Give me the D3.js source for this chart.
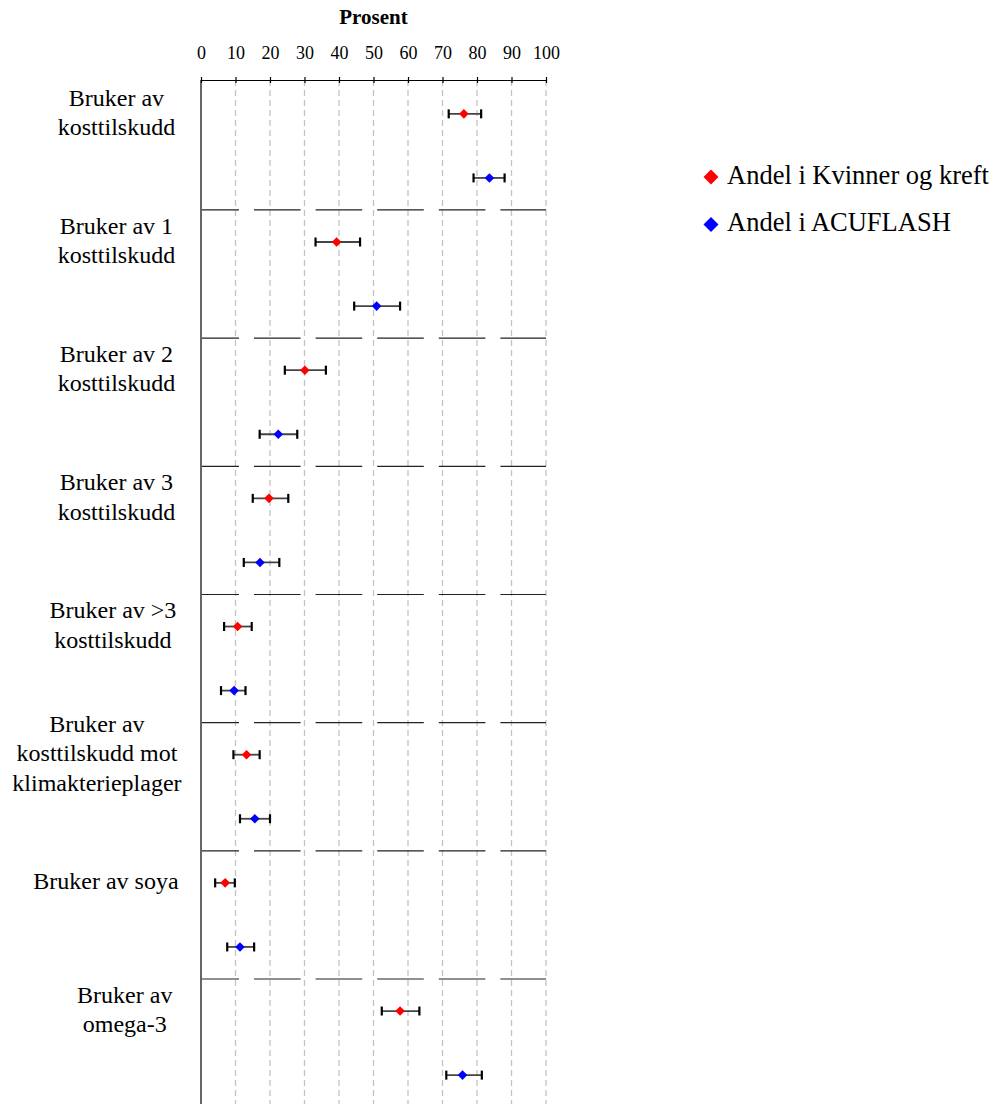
<!DOCTYPE html>
<html>
<head>
<meta charset="utf-8">
<script src="https://cdn.jsdelivr.net/npm/d3@7"></script>
<style>
  html, body { margin: 0; padding: 0; background: #fff; }
  svg { display: block; }
  text { font-family: "Liberation Serif", "Times New Roman", serif; fill: #000; }
</style>
</head>
<body>
<svg id="chart" width="994" height="1104"></svg>
<script>
// Categories (label lines) shown down the left side
const categories = [
  ["Bruker av", "kosttilskudd"],
  ["Bruker av 1", "kosttilskudd"],
  ["Bruker av 2", "kosttilskudd"],
  ["Bruker av 3", "kosttilskudd"],
  ["Bruker av >3", "kosttilskudd"],
  ["Bruker av", "kosttilskudd mot", "klimakterieplager"],
  ["Bruker av soya"],
  ["Bruker av", "omega-3"]
];

// Proportion (%) with confidence interval, Kvinner og kreft
const kkValue = [76.2, 39.3, 30.1, 19.7, 10.6, 13.2, 7.0, 57.7];
const kkLow   = [71.8, 33.2, 24.3, 15.0,  6.7,  9.4, 4.1, 52.4];
const kkHigh  = [81.2, 46.1, 36.2, 25.3, 14.7, 17.0, 9.8, 63.3];

// Proportion (%) with confidence interval, ACUFLASH
const acValue = [83.6, 50.9, 22.4, 17.1,  9.6, 15.6, 11.3, 75.8];
const acLow   = [79.0, 44.4, 17.0, 12.4,  5.8, 11.3,  7.6, 71.1];
const acHigh  = [88.0, 57.7, 27.9, 22.7, 12.9, 20.0, 15.4, 81.4];

const tickValues = [0, 10, 20, 30, 40, 50, 60, 70, 80, 90, 100];
const axisTitle = "Prosent";
const seriesNames = ["Andel i Kvinner og kreft", "Andel i ACUFLASH"];
const seriesColors = ["#ff0000", "#0000ff"];

const svg = d3.select("#chart");

const left = 201, right = 546, axisY = 80;
const plotTop = 81.8, band = 128.17;

const x = d3.scaleLinear().domain([0, 100]).range([left, right]);
const keys = categories.map((c, i) => "c" + i);
const y = d3.scaleBand().domain(keys).range([plotTop, plotTop + band * keys.length]);

// Vertical dashed gridlines
svg.append("g")
  .selectAll("line")
  .data(tickValues.filter(v => v > 0))
  .join("line")
  .attr("x1", d => x(d)).attr("x2", d => x(d))
  .attr("y1", axisY).attr("y2", 1104)
  .attr("stroke", "#c4c4c4")
  .attr("stroke-width", 1.3)
  .attr("stroke-dasharray", "6,4");

// Dashed separators between categories
svg.append("g")
  .selectAll("line")
  .data(keys.slice(1))
  .join("line")
  .attr("x1", left).attr("x2", right)
  .attr("y1", d => y(d)).attr("y2", d => y(d))
  .attr("stroke", "#222")
  .attr("stroke-width", 1.2)
  .attr("stroke-dasharray", "46.6,15")
  .attr("stroke-dashoffset", 8.6);

// Left axis line
svg.append("line")
  .attr("x1", left).attr("x2", left)
  .attr("y1", axisY).attr("y2", 1104)
  .attr("stroke", "#666")
  .attr("stroke-width", 2);

// Top axis
const axis = svg.append("g")
  .attr("transform", `translate(0,${axisY})`)
  .call(d3.axisTop(x).tickValues(tickValues).tickSize(3).tickSizeOuter(0).tickPadding(18));
axis.select(".domain").attr("stroke", "#000").attr("stroke-width", 1.2);
axis.selectAll(".tick line").attr("y1", 3).attr("y2", -3).attr("stroke", "#000").attr("stroke-width", 1.2);
axis.selectAll(".tick text")
  .style("font-family", '"Liberation Serif", "Times New Roman", serif')
  .attr("font-size", 18)
  .attr("fill", "#000");

svg.append("text")
  .attr("x", (left + right) / 2)
  .attr("y", 24)
  .attr("text-anchor", "middle")
  .attr("font-weight", "bold")
  .attr("font-size", 21)
  .text(axisTitle);

// Category labels: centred on the first row of each group; wider
// blocks sit further left so they stay clear of the axis
const labelG = svg.append("g");
categories.forEach((lines, i) => {
  const cy = y(keys[i]) + y.bandwidth() * 0.25;
  const lh = 29.5;
  const first = cy + 6.5 - (lines.length - 1) * lh / 2;
  const t = labelG.append("text")
    .attr("text-anchor", "middle")
    .attr("font-size", 24);
  const spans = lines.map((ln, j) =>
    t.append("tspan").attr("y", first + j * lh).text(ln));
  const w = d3.max(spans, s => s.node().getComputedTextLength());
  const cx = 160.6 - 0.376 * w;
  spans.forEach(s => s.attr("x", cx));
});

// Points with error bars
const series = [
  { name: seriesNames[0], color: seriesColors[0], v: kkValue, lo: kkLow, hi: kkHigh, off: 0.25 },
  { name: seriesNames[1], color: seriesColors[1], v: acValue, lo: acLow, hi: acHigh, off: 0.75 }
];
const diamond = d3.symbol().type(d3.symbolSquare).size(46);

series.forEach(s => {
  const g = svg.append("g");
  const rows = keys.map((k, i) => ({
    cy: y(k) + y.bandwidth() * s.off,
    v: s.v[i], lo: s.lo[i], hi: s.hi[i]
  }));
  g.selectAll("line.err")
    .data(rows).join("line")
    .attr("class", "err")
    .attr("x1", d => x(d.lo)).attr("x2", d => x(d.hi))
    .attr("y1", d => d.cy).attr("y2", d => d.cy)
    .attr("stroke", "#444").attr("stroke-width", 1.8);
  ["lo", "hi"].forEach(end => {
    g.selectAll("line.cap-" + end)
      .data(rows).join("line")
      .attr("class", "cap-" + end)
      .attr("x1", d => x(d[end])).attr("x2", d => x(d[end]))
      .attr("y1", d => d.cy - 4.5).attr("y2", d => d.cy + 4.5)
      .attr("stroke", "#000").attr("stroke-width", 2.2);
  });
  g.selectAll("path")
    .data(rows).join("path")
    .attr("d", diamond)
    .attr("transform", d => `translate(${x(d.v)},${d.cy}) rotate(45)`)
    .attr("fill", s.color);
});

// Legend
const legend = svg.append("g");
const legendDiamond = d3.symbol().type(d3.symbolSquare).size(112);
series.forEach((s, i) => {
  const ly = 177 + i * 47.5;
  legend.append("path")
    .attr("d", legendDiamond)
    .attr("transform", `translate(711,${ly}) rotate(45)`)
    .attr("fill", s.color);
  legend.append("text")
    .attr("x", 727)
    .attr("y", ly + 6.5)
    .attr("font-size", 26.5)
    .text(s.name);
});
</script>
</body>
</html>
